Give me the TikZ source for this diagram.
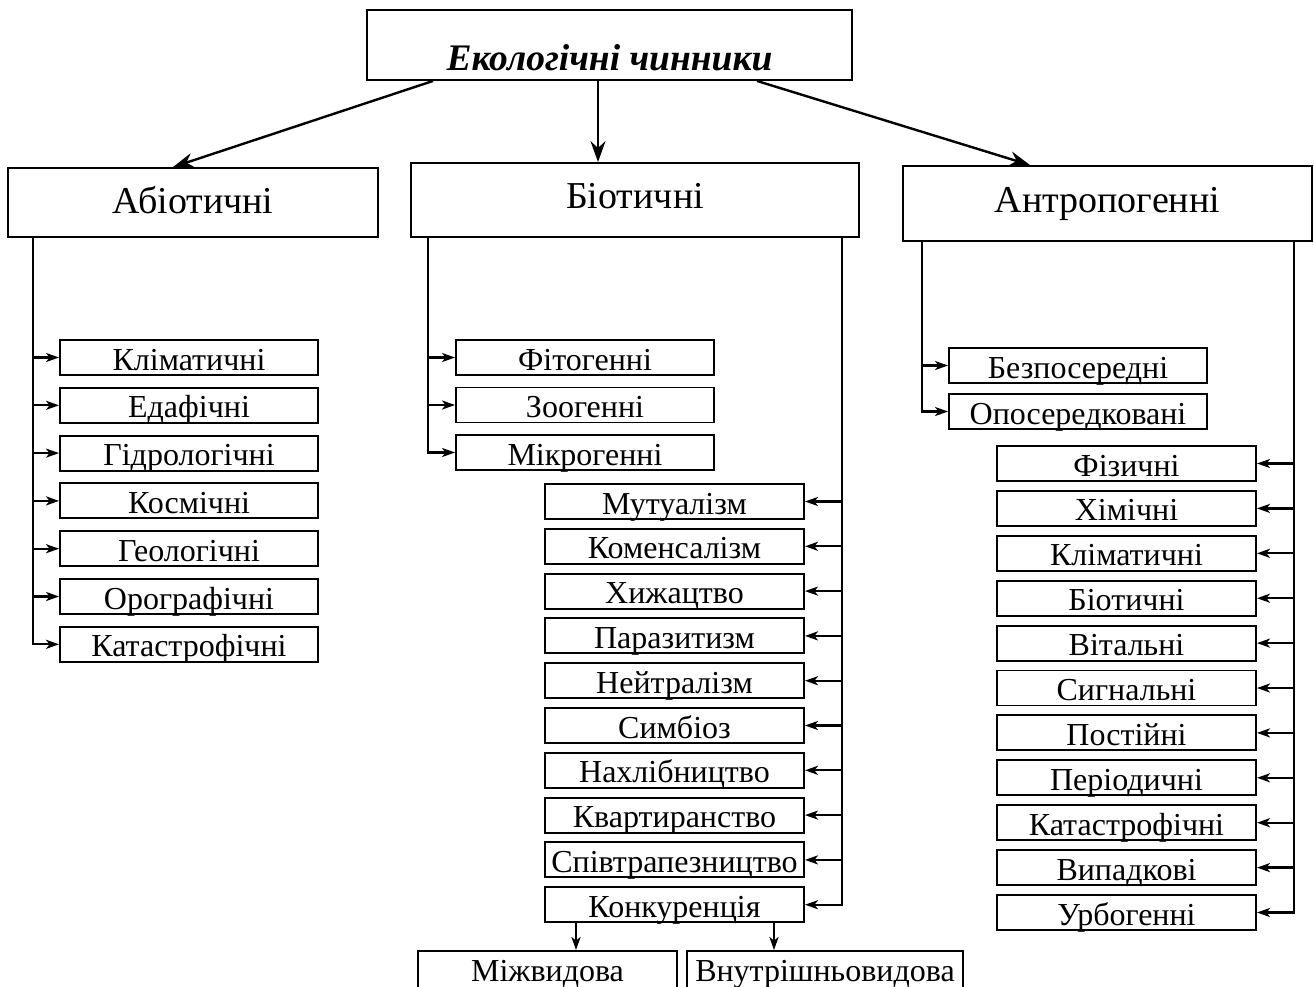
\documentclass[tikz,border=0pt]{standalone}
\usepackage{fontspec}
\setmainfont{Liberation Serif}
\usetikzlibrary{arrows.meta}
\tikzset{
  boxline/.style={draw, line width=1.9pt, inner xsep=0pt, inner ysep=0pt, anchor=base},
  smallbox/.style={boxline, minimum width=258pt, text height=30pt, text depth=5pt,
                   font=\fontsize{32}{32}\selectfont},
  bigbox/.style={boxline, font=\fontsize{38}{38}\selectfont},
  con/.style={line width=2.3pt, -{Stealth[length=13pt,width=9pt,inset=3.5pt]}},
  bigcon/.style={line width=2.4pt, -{Stealth[length=21pt,width=15pt,inset=7pt]}},
}
\begin{document}
\begin{tikzpicture}[x=1pt,y=-1pt]
\useasboundingbox (0,0) rectangle (1314,986);

% title
\node[boxline, minimum width=485pt, text height=60pt, text depth=10pt,
      font=\fontsize{37.5}{37.5}\selectfont\bfseries\itshape] (title) at (609.5,70) {Екологічні чинники};

% main groups
\node[bigbox, minimum width=370pt, text height=45pt, text depth=24pt] (abio) at (193,213) {Абіотичні};
\node[bigbox, minimum width=448pt, text height=45pt, text depth=29pt] (bio) at (635,208) {Біотичні};
\node[bigbox, minimum width=409pt, text height=46pt, text depth=29pt] (antro) at (1107.5,212) {Антропогенні};

\draw[bigcon] ([xshift=-176.5pt]title.south) -- ([xshift=-20pt]abio.north);
\draw[bigcon] ([xshift=-11.5pt]title.south) -- ([xshift=-37pt]bio.north);
\draw[bigcon] ([xshift=147.5pt]title.south) -- ([xshift=-77.5pt]antro.north);

% abiotic
\foreach \t [count=\i, evaluate=\i as \yb using 370+47.8*(\i-1)] in
  {Кліматичні,Едафічні,Гідрологічні,Космічні,Геологічні,Орографічні,Катастрофічні}
  \node[smallbox] (a\i) at (189,\yb) {\t};
\foreach \i in {1,...,7}
  \draw[con] ([xshift=26pt]abio.south west) |- (a\i.west);

% biotic left
\foreach \t [count=\i, evaluate=\i as \yb using 370+47.5*(\i-1)] in
  {Фітогенні,Зоогенні,Мікрогенні}
  \node[smallbox] (bl\i) at (585,\yb) {\t};
\foreach \i in {1,...,3}
  \draw[con] ([xshift=18pt]bio.south west) |- (bl\i.west);

% biotic right
\foreach \t [count=\i, evaluate=\i as \yb using 514+44.8*(\i-1)] in
  {Мутуалізм,Коменсалізм,Хижацтво,Паразитизм,Нейтралізм,Симбіоз,Нахлібництво,Квартиранство,Співтрапезництво,Конкуренція}
  \node[smallbox, minimum width=259pt] (br\i) at (674.5,\yb) {\t};
\foreach \i in {1,...,10}
  \draw[con] ([xshift=-18pt]bio.south east) |- (br\i.east);

% competition
\node[smallbox, minimum width=259pt, text depth=10pt] (mizh) at (547.5,981) {Міжвидова};
\node[smallbox, minimum width=276pt, text depth=10pt] (vnutr) at (825,981) {Внутрішньовидова};
\draw[con] ([xshift=-98.5pt]br10.south) -- ([xshift=-98.5pt]br10.south |- mizh.north);
\draw[con] ([xshift=99.5pt]br10.south) -- ([xshift=99.5pt]br10.south |- vnutr.north);

% anthropogenic left
\foreach \t [count=\i, evaluate=\i as \yb using 378+46*(\i-1)] in
  {Безпосередні,Опосередковані}
  \node[smallbox] (al\i) at (1078,\yb) {\t};
\foreach \i in {1,2}
  \draw[con] ([xshift=20pt]antro.south west) |- (al\i.west);

% anthropogenic right
\foreach \t [count=\i, evaluate=\i as \yb using 476+44.9*(\i-1)] in
  {Фізичні,Хімічні,Кліматичні,Біотичні,Вітальні,Сигнальні,Постійні,Періодичні,Катастрофічні,Випадкові,Урбогенні}
  \node[smallbox, minimum width=259pt] (ar\i) at (1126.5,\yb) {\t};
\foreach \i in {1,...,11}
  \draw[con] ([xshift=-19pt]antro.south east) |- (ar\i.east);
\end{tikzpicture}
\end{document}
